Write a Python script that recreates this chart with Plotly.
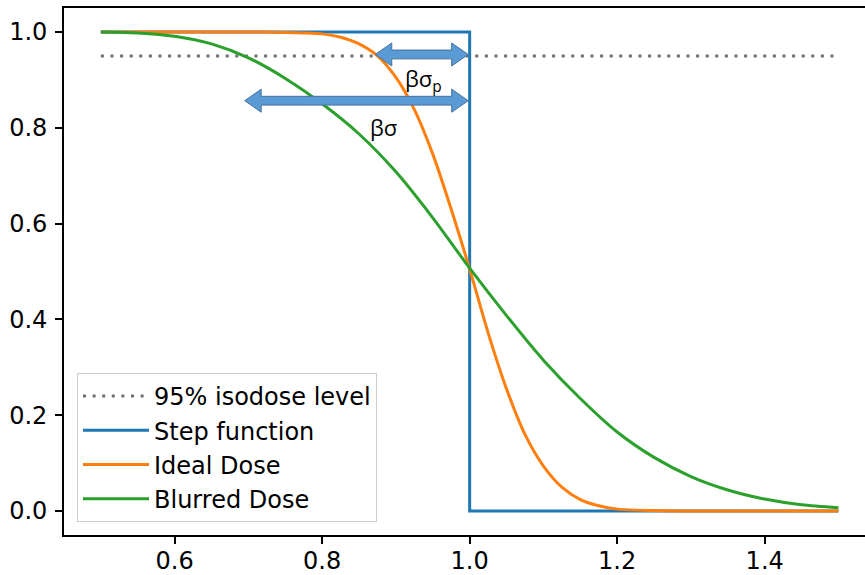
import plotly.graph_objects as go

# ---------------- data ----------------
iso_x = [0.5, 1.5]
iso_y = [0.95, 0.95]

step_x = [0.5, 1.0, 1.0, 1.5]
step_y = [1.0, 1.0, 0.0, 0.0]

ideal_x = [0.50, 0.60, 0.70, 0.75, 0.775, 0.80, 0.825, 0.85, 0.875, 0.90,
           0.925, 0.95, 0.975, 1.00, 1.025, 1.05, 1.075, 1.10, 1.125, 1.15,
           1.175, 1.20, 1.25, 1.30, 1.40, 1.50]
ideal_y = [1.000, 1.000, 1.000, 0.999, 0.998, 0.996, 0.989, 0.975, 0.950, 0.905,
           0.838, 0.745, 0.630, 0.505, 0.372, 0.255, 0.160, 0.094, 0.050, 0.024,
           0.011, 0.004, 0.001, 0.000, 0.000, 0.000]

blur_x = [0.50, 0.55, 0.60, 0.65, 0.70, 0.75, 0.80, 0.85, 0.90, 0.95, 1.00,
          1.05, 1.10, 1.15, 1.20, 1.25, 1.30, 1.35, 1.40, 1.45, 1.50]
blur_y = [1.000, 0.998, 0.991, 0.975, 0.946, 0.903, 0.850, 0.787, 0.708, 0.612, 0.507,
          0.408, 0.315, 0.235, 0.165, 0.112, 0.072, 0.044, 0.025, 0.013, 0.007]

names = ["95% isodose level", "Step function", "Ideal Dose", "Blurred Dose"]

x_ticks = [0.6, 0.8, 1.0, 1.2, 1.4]
y_ticks = [0.0, 0.2, 0.4, 0.6, 0.8, 1.0]

# arrow annotations: (left tip x, right tip x, y)
arrow_small = (0.872, 0.998, 0.953)
arrow_big = (0.695, 0.998, 0.8565)

# ---------------- layout geometry ----------------
W, H = 865, 575
ML, MR, MT, MB = 64, 0, 8, 40
XR = [0.45, 1.536]
YR = [-0.05, 1.05]
px_x = (W - ML - MR) / (XR[1] - XR[0])
px_y = (H - MT - MB) / (YR[1] - YR[0])

fig = go.Figure()
fig.add_trace(go.Scatter(x=iso_x, y=iso_y, mode="lines", name=names[0],
                         line=dict(color="#6f6f6f", width=3, dash="3px,6.6px")))
fig.add_trace(go.Scatter(x=step_x, y=step_y, mode="lines", name=names[1],
                         line=dict(color="#1f77b4", width=3)))
fig.add_trace(go.Scatter(x=ideal_x, y=ideal_y, mode="lines", name=names[2],
                         line=dict(color="#ff7f0e", width=3, shape="spline", smoothing=0.8)))
fig.add_trace(go.Scatter(x=blur_x, y=blur_y, mode="lines", name=names[3],
                         line=dict(color="#2ca02c", width=3, shape="spline", smoothing=0.8)))


def arrow_path(x0, x1, y, head_len=16.5, head_half=11.5, shaft_half=4.4):
    hl = head_len / px_x
    hh = head_half / px_y
    sh = shaft_half / px_y
    pts = [(x0, y), (x0 + hl, y + hh), (x0 + hl, y + sh), (x1 - hl, y + sh),
           (x1 - hl, y + hh), (x1, y), (x1 - hl, y - hh), (x1 - hl, y - sh),
           (x0 + hl, y - sh), (x0 + hl, y - hh)]
    return "M " + " L ".join(f"{px},{py}" for px, py in pts) + " Z"


for a in (arrow_small, arrow_big):
    fig.add_shape(type="path", xref="x", yref="y", path=arrow_path(*a),
                  fillcolor="#5b9bd5", line=dict(color="#41719c", width=1))

fig.add_annotation(x=0.9376, y=0.899, xref="x", yref="y", text="βσ<sub>p</sub>",
                   showarrow=False, font=dict(family="Open Sans", size=22, color="black"))
fig.add_annotation(x=0.8834, y=0.802, xref="x", yref="y", text="βσ",
                   showarrow=False, font=dict(family="Open Sans", size=22, color="black"))

axis_common = dict(showgrid=False, zeroline=False, showline=True, linecolor="black",
                   linewidth=1.6, ticks="outside", ticklen=7, tickwidth=1.6,
                   tickcolor="black", tickformat=".1f", automargin=False,
                   tickfont=dict(family="DejaVu Sans", size=24, color="black"))

fig.update_layout(
    width=W, height=H,
    margin=dict(l=ML, r=MR, t=MT, b=MB, pad=0, autoexpand=False),
    paper_bgcolor="white", plot_bgcolor="white",
    xaxis=dict(range=XR, tickvals=x_ticks, mirror=True, ticklabelstandoff=-4, **axis_common),
    yaxis=dict(range=YR, tickvals=y_ticks, mirror=False, ticklabelstandoff=3, **axis_common),
    showlegend=True,
    legend=dict(x=(77 - ML) / (W - ML - MR), y=(H - MB - 522) / (H - MT - MB),
                xanchor="left", yanchor="bottom",
                bgcolor="rgba(255,255,255,0.8)", bordercolor="#cccccc", borderwidth=1,
                font=dict(family="DejaVu Sans", size=24, color="black"),
                itemwidth=66, tracegroupgap=0),
)

fig.write_html("out.html", config={"displayModeBar": False})

# remove the browser's default page margin so the figure sits at the top-left corner
with open("out.html", "r", encoding="utf-8") as f:
    html = f.read()
html = html.replace("<head>", "<head><style>html,body{margin:0;padding:0;overflow:hidden;}</style>", 1)
with open("out.html", "w", encoding="utf-8") as f:
    f.write(html)
